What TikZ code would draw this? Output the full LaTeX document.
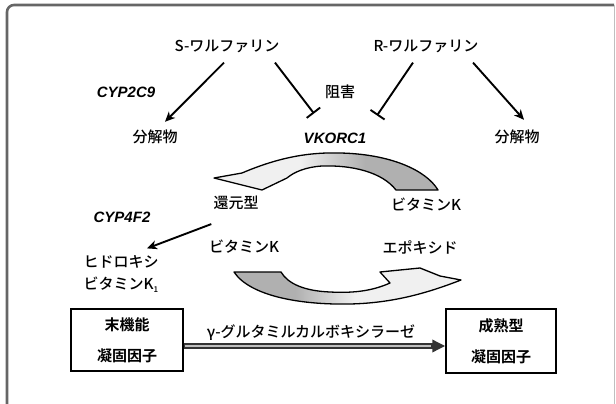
\documentclass[tikz,border=0pt]{standalone}
\usepackage{fontspec}
\setmainfont{Liberation Sans}
\newfontfamily\jp{Noto Sans CJK JP}[UprightFont={* Medium}, BoldFont={* Bold}]
\usetikzlibrary{arrows.meta,calc}
\begin{document}
\begin{tikzpicture}[x=1pt,y=-1pt,
  jt/.style={font=\jp\fontsize{15}{18}\selectfont, inner sep=0pt},
  it/.style={font=\fontsize{15}{18}\selectfont\bfseries\itshape, inner sep=0pt},
  arr/.style={line width=1.9pt, -{Stealth[length=10pt,width=9pt,inset=3pt]}},
  inh/.style={line width=1.9pt, -{Bar[width=17pt,line width=1.9pt]}},
  boxnode/.style={draw, line width=1.4pt, align=center, inner sep=0pt,
    font=\jp\bfseries\fontsize{15}{18}\selectfont},
  outline/.style={draw=black, line width=1.3pt, line join=round},
  darkfill/.style={fill=gray!62},
  lightfill/.style={fill=gray!12}]
\useasboundingbox (0,0) rectangle (616,404);
% frame
\draw[black!60, line width=2.6pt, rounded corners=7pt] (7,404) -- (7,5) -- (614,5);
\draw[black!25, line width=0.8pt] (614,5) -- (614,404);

% texts
\node[jt] (sw) at (227,46) {S-ワルファリン};
\node[jt] (rw) at (426,46) {R-ワルファリン};
\node[it] (cyp2c9) at (126,92) {CYP2C9};
\node[jt] (sogai) at (340,92) {阻害};
\node[jt] (bunl) at (155,137) {分解物};
\node[jt] (bunr) at (517,137) {分解物};
\node[it] (vk) at (335,138) {VKORC1};
\node[it] (cyp4f2) at (122,217) {CYP4F2};
\node[jt] (kangen) at (236,203) {還元型};
\node[jt] (vkl) at (244,247) {ビタミンK};
\node[jt] (vkr) at (426,205) {ビタミンK};
\node[jt] (epo) at (420,247) {エポキシド};
\node[jt] (hyd1) at (121,262) {ヒドロキシ};
\node[jt] (hyd2) at (121,285) {ビタミンK\raisebox{-0.2em}{\fontsize{8}{8}\selectfont 1}};
\node[boxnode, minimum width=112pt, minimum height=62pt] (box1) at (127,340) {末機能\\[13pt]凝固因子};
\node[boxnode, minimum width=110pt, minimum height=64pt] (box2) at (501,341) {成熟型\\[13pt]凝固因子};
\node[jt] (gamma) at (311,333) {γ-グルタミルカルボキシラーゼ};

% connectors
\draw[arr] ($(sw.south)+(-3,10)$) -- ($(bunl.north)+(10,-8)$);
\draw[inh] ($(sw.south)+(48,10)$) -- ($(vk.north)+(-21,-19)$);
\draw[inh] ($(rw.south)+(-13,10)$) -- ($(vk.north)+(42,-17)$);
\draw[arr] ($(rw.south)+(47,10)$) -- ($(bunr.north)+(7,-10)$);
\draw[arr] ($(kangen.south west)+(-2,14)$) -- ($(hyd1.north)+(26,-7)$);
\draw[line width=5.5pt, black!80, -{Triangle[length=13pt,width=12pt]}]
  ($(box1.east)+(0,6)$) -- ($(box2.west)+(0,5)$);
\draw[line width=2.4pt, gray!50, shorten >=14pt]
  ($(box1.east)+(1,6)$) -- ($(box2.west)+(0,5)$);

% upper curved arrow (VKORC1 cycle)
\def\upath{(214,178) -- (242,173) .. controls (275,159) and (305,152) .. (340,153)
  .. controls (390,154) and (426,170) .. (438,190) -- (396,190)
  .. controls (382,172) and (352,165) .. (322,166)
  .. controls (306,167) and (294,172) .. (287,178) -- (262,190) -- cycle}
\begin{scope}
  \clip \upath;
  \fill[gray!12] (200,140) rectangle (450,200);
  \shade[left color=gray!12, right color=gray!62] (300,140) rectangle (365,200);
  \fill[gray!62] (365,140) rectangle (450,200);
\end{scope}
\draw[outline] \upath;

% lower curved arrow
\def\lpath{(234,272) .. controls (250,296) and (300,305) .. (350,304)
  .. controls (395,303) and (430,292) .. (461,280) -- (440,276) -- (420,268)
  -- (380,272) -- (390,283)
  .. controls (370,292) and (350,293) .. (330,292)
  .. controls (305,291) and (288,284) .. (281,272) -- cycle}
\begin{scope}
  \clip \lpath;
  \fill[gray!62] (220,260) rectangle (295,310);
  \shade[left color=gray!62, right color=gray!12] (295,260) rectangle (355,310);
  \fill[gray!12] (355,260) rectangle (470,310);
\end{scope}
\draw[outline] \lpath;
\end{tikzpicture}
\end{document}
